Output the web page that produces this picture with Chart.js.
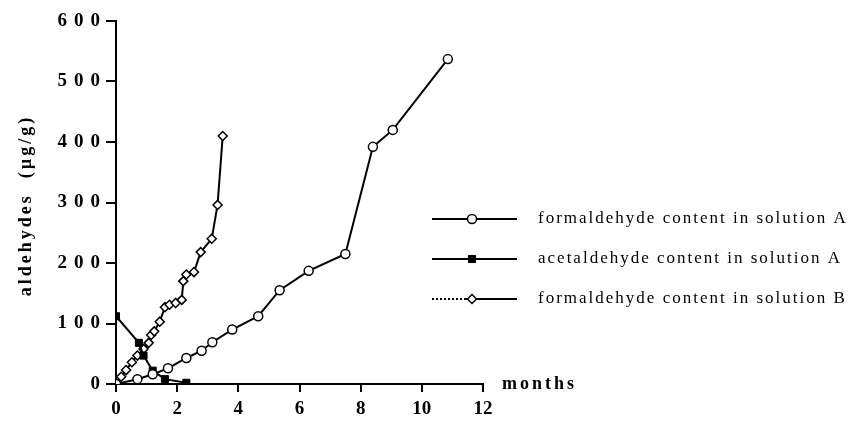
<!DOCTYPE html>
<html>
<head>
<meta charset="utf-8">
<script src="https://cdn.jsdelivr.net/npm/chart.js@4/dist/chart.umd.min.js"></script>
<style>
  html, body { margin: 0; padding: 0; background: #fff; }
  #wrap { width: 850px; height: 421px; }
</style>
</head>
<body>
<div id="wrap"><canvas id="aldChart" width="850" height="421"></canvas></div>
<script>
// values
var monthsFormA = [0, 0.7, 1.2, 1.7, 2.3, 2.8, 3.15, 3.8, 4.65, 5.35, 6.3, 7.5, 8.4, 9.05, 10.85];
var formA = [0, 8, 16, 26, 43, 55, 69, 90, 112, 155, 187, 215, 392, 420, 537];

var monthsAcetA = [0, 0.75, 0.9, 1.2, 1.6, 2.3];
var acetA = [112, 68, 47, 22, 8, 2];

var monthsFormB = [0, 0.17, 0.33, 0.52, 0.7, 0.9, 1.07, 1.15, 1.25, 1.43, 1.6, 1.75, 1.95, 2.15, 2.2, 2.3, 2.55, 2.77, 3.13, 3.32, 3.49];
var formB = [0, 12, 23, 36, 47, 58, 68, 81, 87, 103, 127, 131, 134, 139, 170, 181, 185, 218, 240, 296, 410];

var seriesNames = ['formaldehyde content in solution A', 'acetaldehyde content in solution A', 'formaldehyde content in solution B'];
var yTicks = [0, 100, 200, 300, 400, 500, 600];
var yTitle = 'aldehydes  (µg/g)';
var xTitle = 'months';

function pts(xs, ys) {
  return xs.map(function (x, i) { return { x: x, y: ys[i] }; });
}

var serif = "'Liberation Serif', 'DejaVu Serif', serif";

// axis titles, y labels and the legend are drawn by hand (spaced letters)
var extras = {
  id: 'extras',
  afterDraw: function (chart) {
    var c = chart.ctx;
    var ys = chart.scales.y;
    c.save();
    c.fillStyle = '#000';
    c.textBaseline = 'middle';

    c.font = 'bold 19px ' + serif;
    c.letterSpacing = '7px';
    c.textAlign = 'right';
    yTicks.forEach(function (v) {
      c.fillText(String(v), 107, ys.getPixelForValue(v));
    });

    c.save();
    c.translate(26, (chart.chartArea.top + chart.chartArea.bottom) / 2 + 3);
    c.rotate(-Math.PI / 2);
    c.textAlign = 'center';
    c.font = 'bold 18px ' + serif;
    c.letterSpacing = '3px';
    c.fillText(yTitle, 0, 0);
    c.restore();

    c.textAlign = 'left';
    c.font = 'bold 18px ' + serif;
    c.letterSpacing = '3px';
    c.fillText(xTitle, 502, chart.chartArea.bottom);

    // legend
    var rows = [219, 259, 299];
    c.font = '17px ' + serif;
    c.letterSpacing = '2px';
    chart.data.datasets.forEach(function (ds, i) {
      var y = rows[i];
      c.strokeStyle = '#000';
      c.lineWidth = 2;
      if (i === 2) {
        c.setLineDash([2, 2]);
        c.beginPath(); c.moveTo(432, y); c.lineTo(466, y); c.stroke();
        c.setLineDash([]);
        c.beginPath(); c.moveTo(466, y); c.lineTo(517, y); c.stroke();
      } else {
        c.beginPath(); c.moveTo(432, y); c.lineTo(517, y); c.stroke();
      }
      c.fillStyle = ds.pointBackgroundColor;
      c.lineWidth = ds.pointBorderWidth;
      Chart.helpers.drawPoint(c, { pointStyle: ds.pointStyle, radius: ds.pointRadius, rotation: 0, borderWidth: ds.pointBorderWidth }, 472, y);
      c.fillStyle = '#000';
      c.fillText(ds.label, 538, y);
    });
    c.restore();
  }
};

var ctx = document.getElementById('aldChart');
var myChart = new Chart(ctx, {
  type: 'scatter',
  data: {
    datasets: [{
      label: seriesNames[0],
      data: pts(monthsFormA, formA),
      showLine: true,
      borderColor: '#000',
      borderWidth: 2,
      pointStyle: 'circle',
      pointRadius: 4.5,
      pointBorderWidth: 1.5,
      pointBorderColor: '#000',
      pointBackgroundColor: '#fff'
    }, {
      label: seriesNames[1],
      data: pts(monthsAcetA, acetA),
      showLine: true,
      borderColor: '#000',
      borderWidth: 2,
      pointStyle: 'rect',
      pointRadius: 5,
      pointBorderWidth: 1,
      pointBorderColor: '#000',
      pointBackgroundColor: '#000'
    }, {
      label: seriesNames[2],
      data: pts(monthsFormB, formB),
      showLine: true,
      borderColor: '#000',
      borderWidth: 2,
      pointStyle: 'rectRot',
      pointRadius: 4.5,
      pointBorderWidth: 1.5,
      pointBorderColor: '#000',
      pointBackgroundColor: '#fff'
    }]
  },
  options: {
    responsive: false,
    animation: false,
    events: [],
    layout: { padding: { left: 0, top: 21, right: 367, bottom: 0 } },
    plugins: {
      legend: { display: false },
      tooltip: { enabled: false }
    },
    scales: {
      x: {
        type: 'linear',
        min: 0,
        max: 12,
        afterFit: function (s) { s.height = 37; },
        ticks: {
          stepSize: 2,
          color: '#000',
          padding: 6,
          font: { family: serif, size: 19, weight: 'bold' }
        },
        grid: { drawOnChartArea: false, drawTicks: true, tickLength: 8, color: '#000', lineWidth: 2 },
        border: { display: true, color: '#000', width: 2 }
      },
      y: {
        type: 'linear',
        min: 0,
        max: 600,
        afterFit: function (s) { s.width = 116; },
        ticks: { stepSize: 100, display: false },
        grid: { drawOnChartArea: false, drawTicks: true, tickLength: 10, color: '#000', lineWidth: 2 },
        border: { display: true, color: '#000', width: 2 }
      }
    }
  },
  plugins: [extras]
});
</script>
</body>
</html>
